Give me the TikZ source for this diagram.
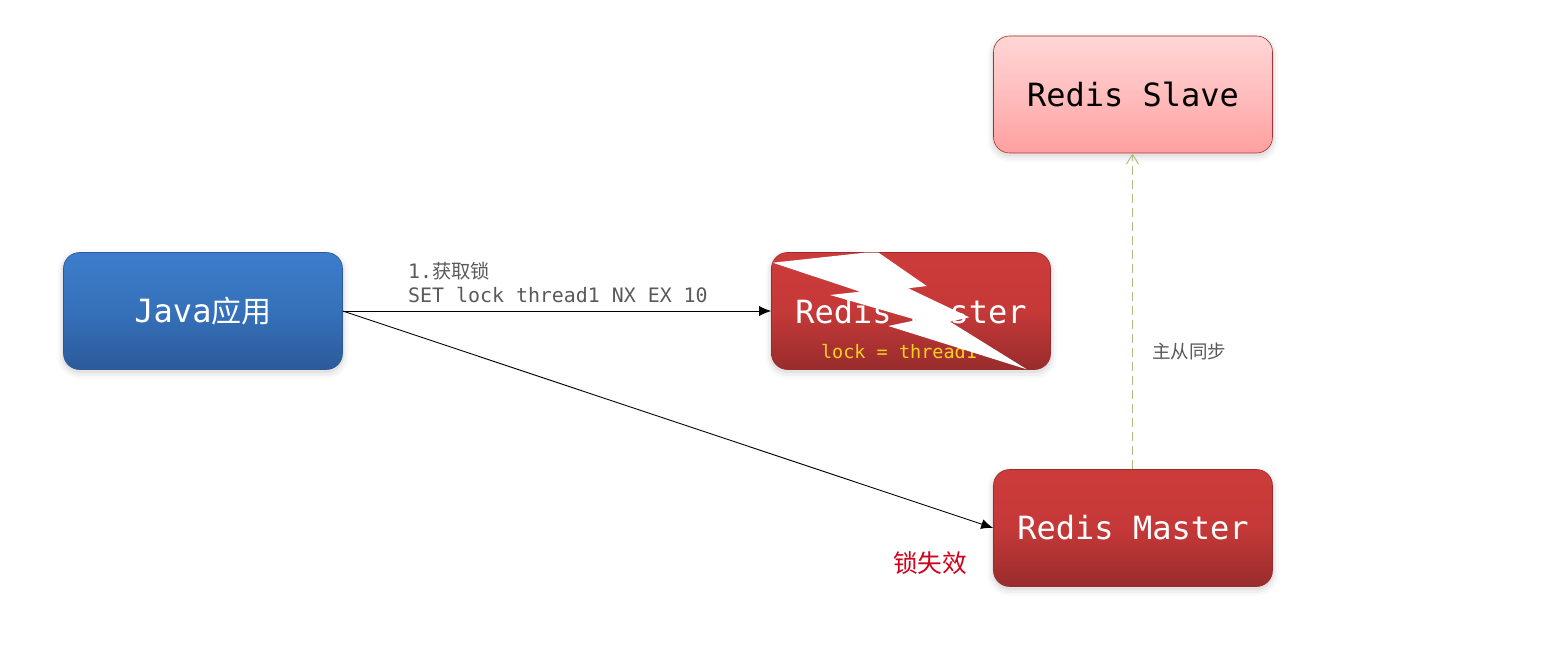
\documentclass[tikz,border=0pt]{standalone}
\usepackage{fontspec}
\setmainfont{DejaVu Sans Mono}
\newfontfamily\cjk{Noto Sans CJK SC}
\usetikzlibrary{arrows.meta}
\definecolor{blueT}{HTML}{3C7DCB}
\definecolor{blueM}{HTML}{3671BA}
\definecolor{blueB}{HTML}{2B5A9A}
\definecolor{redT}{HTML}{CC3B3A}
\definecolor{redM}{HTML}{C53938}
\definecolor{redB}{HTML}{992C2C}
\definecolor{pinkT}{HTML}{FFD6D6}
\definecolor{pinkM}{HTML}{FFBDBD}
\definecolor{pinkB}{HTML}{FF9FA0}
\definecolor{labelgray}{HTML}{5A5A5A}
\definecolor{syncline}{HTML}{AEBB84}
\definecolor{failred}{HTML}{D0021B}
\definecolor{lockyellow}{HTML}{F8D020}
\tikzset{
  softshadow/.style={
    preaction={draw=black,draw opacity=.025,line width=12pt,transform canvas={yshift=-3pt}},
    preaction={draw=black,draw opacity=.035,line width=7pt,transform canvas={yshift=-3pt}},
    preaction={draw=black,draw opacity=.05,line width=3pt,transform canvas={yshift=-2pt}}},
  box/.style={softshadow,rounded corners=16pt,minimum width=279pt,minimum height=117pt,inner sep=0pt,
    font=\fontsize{32}{36}\selectfont,text=white,line width=.6pt},
  bluebox/.style={box,draw=blueB,top color=blueT,bottom color=blueB,middle color=blueM},
  redbox/.style={box,draw=redB,top color=redT,bottom color=redB,middle color=redM},
  pinkbox/.style={box,draw=redM!85!black,top color=pinkT,bottom color=pinkB,middle color=pinkM,text=black},
  flow/.style={draw=black,line width=.9pt,-{Latex[length=12pt,width=10pt]}},
  syncflow/.style={draw=syncline,line width=.9pt,dash pattern=on 9pt off 5pt,-{Straight Barb[length=10pt,width=12pt]}},
  note/.style={font=\fontsize{19.9}{24}\selectfont,text=labelgray,align=left,inner sep=0pt},
}
\begin{document}
\begin{tikzpicture}[x=1pt,y=-1pt]
\useasboundingbox[fill=white] (0,0) rectangle (1544,666);
\node[bluebox] (java) at (203,311) {Java{\cjk\fontsize{30}{36}\selectfont 应用}};
\node[redbox] (m1) at (911,311) {};
\node[font=\fontsize{32}{36}\selectfont,text=white,inner sep=0pt] (m1text) at (911,311.5) {Redis Master};
\node[font=\fontsize{18.5}{24}\selectfont,text=lockyellow,inner sep=0pt] (lock) at (899,351.5) {lock = thread1};
\node[pinkbox] (slave) at (1133,94.5) {Redis Slave};
\node[redbox] (m2) at (1133,528) {\raisebox{-1pt}{Redis Master}};
\fill[white] (772.7,262.7) -- (866.7,252.5) -- (878.3,252.5) -- (926.7,286) -- (908.3,288.3)
  -- (969.3,317.3) -- (950,321.7) -- (1026.7,369.3) -- (888.3,326) -- (916.7,320)
  -- (830,295) -- (860,291.7) -- cycle;
\draw[flow] (java.east) -- (m1.west);
\draw[flow] (java.east) -- (m2.west);
\draw[syncflow] ([xshift=-.5pt]m2.north) -- ([xshift=-.5pt]slave.south);
\node[note,anchor=north west] (get) at (408,262) {1.{\cjk\fontsize{19.3}{24}\selectfont 获取锁}\\[-.5pt]SET lock thread1 NX EX 10};
\node[note,anchor=west,font=\cjk\fontsize{18.5}{24}\selectfont] (sync) at (1152,351) {主从同步};
\node[anchor=west,inner sep=0pt,text=failred,font=\cjk\fontsize{24.7}{30}\selectfont] (fail) at (893,563) {锁失效};
\end{tikzpicture}
\end{document}
